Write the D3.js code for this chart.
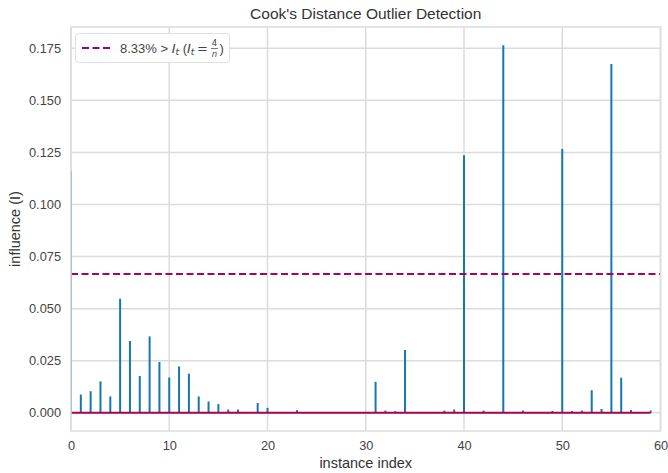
<!DOCTYPE html>
<html>
<head>
<meta charset="utf-8">
<script src="https://cdn.jsdelivr.net/npm/d3@7"></script>
<style>
  body { margin: 0; background: #fff; }
  svg { display: block; font-family: "Liberation Sans", Arial, sans-serif; }
</style>
</head>
<body>
<svg id="chart" width="668" height="473"></svg>
<script>
// influence (Cook's distance) per instance, index 0..59
const influence = [
    0.116, 0.0088, 0.0104, 0.0151, 0.0079, 0.0548, 0.0345, 0.0177, 0.0367, 0.0244,
    0.0170, 0.0223, 0.0188, 0.0079, 0.0055, 0.0042, 0.0016, 0.0016, 0.0003, 0.0047,
    0.0024, 0.0002, 0.0002, 0.0013, 0.0003, 0.0001, 0.0001, 0.0004, 0.0001, 0.0001,
    0.0001, 0.0149, 0.0011, 0.0008, 0.0302, 0.0001, 0.0001, 0.0003, 0.0011, 0.0016,
    0.1236, 0.0001, 0.0011, 0.0002, 0.1764, 0.0002, 0.0011, 0.0001, 0.0001, 0.0009,
    0.1267, 0.0009, 0.0011, 0.0109, 0.0019, 0.1674, 0.0168, 0.0014, 0.0004, 0.0011
];
const threshold = 4 / influence.length;
const xTicks = [0, 10, 20, 30, 40, 50, 60];
const yTicks = [0, 0.025, 0.05, 0.075, 0.1, 0.125, 0.15, 0.175];
const title = "Cook's Distance Outlier Detection";
const xLabel = "instance index";
const yLabel = "influence (I)";

const stemColor = "#1577aa";
const lineColor = "#a50258";
const gridColor = "#dcdcdc";
const textColor = "#444";

const svg = d3.select("#chart");
const mLeft = 71, mRight = 660.5, mTop = 27, mBottom = 431;

const x = d3.scaleLinear().domain([0, 60]).range([mLeft, mRight]);
const y = d3.scaleLinear().domain([-0.0087, 0.1852]).range([mBottom, mTop]);

// grid
svg.append("g").selectAll("line").data(xTicks).enter().append("line")
    .attr("x1", d => x(d)).attr("x2", d => x(d))
    .attr("y1", mTop).attr("y2", mBottom)
    .attr("stroke", gridColor).attr("stroke-width", 1.5);
svg.append("g").selectAll("line").data(yTicks).enter().append("line")
    .attr("x1", mLeft).attr("x2", mRight)
    .attr("y1", d => y(d)).attr("y2", d => y(d))
    .attr("stroke", gridColor).attr("stroke-width", 1.5);

// axes (labels only, no tick marks)
const xAxis = svg.append("g").attr("transform", `translate(0, ${mBottom})`)
    .call(d3.axisBottom(x).tickValues(xTicks).tickSize(0).tickPadding(10).tickFormat(d3.format("d")));
const yAxis = svg.append("g").attr("transform", `translate(${mLeft}, 0)`)
    .call(d3.axisLeft(y).tickValues(yTicks).tickSize(0).tickPadding(10).tickFormat(d3.format(".3f")));
[xAxis, yAxis].forEach(a => {
    a.select(".domain").remove();
    a.selectAll("text").attr("fill", textColor).style("font-size", "12.8px")
        .style("font-family", "'Liberation Sans', Arial, sans-serif");
});

// plot clip
svg.append("clipPath").attr("id", "plotClip").append("rect")
    .attr("x", mLeft).attr("y", mTop).attr("width", mRight - mLeft).attr("height", mBottom - mTop);
const plot = svg.append("g").attr("clip-path", "url(#plotClip)");

// stems
plot.append("g").selectAll("line").data(influence).enter().append("line")
    .attr("x1", (d, i) => x(i)).attr("x2", (d, i) => x(i))
    .attr("y1", y(0)).attr("y2", d => y(d))
    .attr("stroke", stemColor).attr("stroke-width", 2);

// baseline
plot.append("line")
    .attr("x1", x(0)).attr("x2", x(influence.length - 1))
    .attr("y1", y(0)).attr("y2", y(0))
    .attr("stroke", lineColor).attr("stroke-width", 2);

// threshold
plot.append("line")
    .attr("x1", mLeft).attr("x2", mRight)
    .attr("y1", y(threshold)).attr("y2", y(threshold))
    .attr("stroke", lineColor).attr("stroke-width", 2)
    .attr("stroke-dasharray", "7,3.5");

// frame
svg.append("rect").attr("x", mLeft).attr("y", mTop)
    .attr("width", mRight - mLeft).attr("height", mBottom - mTop)
    .attr("fill", "none").attr("stroke", gridColor).attr("stroke-width", 1.5);

// legend
const pct = (influence.filter(d => d > threshold).length / influence.length * 100).toFixed(2);
const lg = svg.append("g");
lg.append("rect").attr("x", 75.5).attr("y", 33.5).attr("width", 154).attr("height", 29)
    .attr("rx", 3).attr("fill", "#fff").attr("fill-opacity", 0.85)
    .attr("stroke", "#e0e0e0").attr("stroke-width", 1);
lg.append("line").attr("x1", 82).attr("x2", 110).attr("y1", 48).attr("y2", 48)
    .attr("stroke", lineColor).attr("stroke-width", 2).attr("stroke-dasharray", "7,3.5");
const lt = lg.append("text").attr("x", 120).attr("y", 52.5)
    .attr("fill", textColor).style("font-size", "13px");
lt.append("tspan").text(pct + "% > ");
lt.append("tspan").style("font-family", "'DejaVu Sans'").style("font-style", "italic").text("I");
lt.append("tspan").style("font-family", "'DejaVu Sans'").style("font-style", "italic")
    .style("font-size", "9px").attr("dy", 2.5).text("t");
lt.append("tspan").attr("dy", -2.5).text(" (");
lt.append("tspan").style("font-family", "'DejaVu Sans'").style("font-style", "italic").text("I");
lt.append("tspan").style("font-family", "'DejaVu Sans'").style("font-style", "italic")
    .style("font-size", "9px").attr("dy", 2.5).text("t");
lt.append("tspan").attr("dy", -2.5).style("font-family", "'DejaVu Sans'").text("\u2009=\u2009");
const fx = 120 + lt.node().getComputedTextLength() + 4;
lg.append("text").attr("x", fx).attr("y", 46).attr("text-anchor", "middle")
    .attr("fill", textColor).style("font-size", "8.5px").style("font-family", "'DejaVu Sans'").text("4");
lg.append("line").attr("x1", fx - 3.5).attr("x2", fx + 3.5).attr("y1", 48.5).attr("y2", 48.5)
    .attr("stroke", textColor).attr("stroke-width", 0.7);
lg.append("text").attr("x", fx).attr("y", 56.5).attr("text-anchor", "middle")
    .attr("fill", textColor).style("font-size", "8.5px").style("font-family", "'DejaVu Sans'")
    .style("font-style", "italic").text("n");
lg.append("text").attr("x", fx + 5).attr("y", 52.5).attr("fill", textColor)
    .style("font-size", "13px").text(")");

// title and labels
svg.append("text").attr("x", (mLeft + mRight) / 2).attr("y", 19).attr("text-anchor", "middle")
    .attr("fill", "#333").style("font-size", "15.5px").text(title);
svg.append("text").attr("x", (mLeft + mRight) / 2).attr("y", 468).attr("text-anchor", "middle")
    .attr("fill", "#333").style("font-size", "14.5px").text(xLabel);
svg.append("text").attr("transform", `translate(20, ${(mTop + mBottom) / 2}) rotate(-90)`)
    .attr("text-anchor", "middle").attr("fill", "#333").style("font-size", "14.5px").text(yLabel);
</script>
</body>
</html>
